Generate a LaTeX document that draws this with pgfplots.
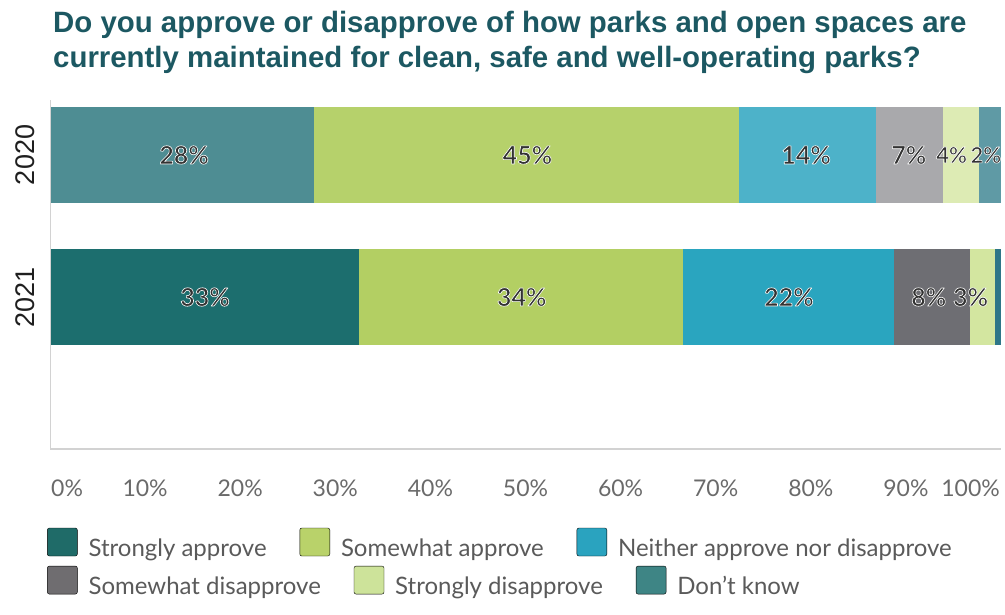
\documentclass[border=0pt]{standalone}
\usepackage{pgfplots}
\pgfplotsset{compat=1.18}
\usepackage{fontspec}
\setmainfont{Lato}
\newfontfamily\titlefont{Liberation Sans}
\newcommand{\halo}[1]{\special{pdf:literal direct 2 Tr 0.6 w 1 j 1 1 1 RG}#1\special{pdf:literal direct 0 Tr}}
\definecolor{titlecol}{HTML}{1C5862}
\definecolor{tickcol}{HTML}{6A6A6A}
\definecolor{legcol}{HTML}{5A5A5A}
\definecolor{labcol}{HTML}{333333}
\definecolor{linecol}{HTML}{D2D2D2}
% 2020 (lighter rendering)
\definecolor{aSA}{HTML}{4E8D93}
\definecolor{aSoA}{HTML}{B6D16B}
\definecolor{aN}{HTML}{4DB2C9}
\definecolor{aSoD}{HTML}{A9A9AC}
\definecolor{aStD}{HTML}{DDEBB4}
\definecolor{aDK}{HTML}{5F9AA5}
% 2021
\definecolor{bSA}{HTML}{1C6E6E}
\definecolor{bSoA}{HTML}{B3CF63}
\definecolor{bN}{HTML}{2AA5BF}
\definecolor{bSoD}{HTML}{6E6E73}
\definecolor{bStD}{HTML}{D3E6A0}
\definecolor{bDK}{HTML}{2E7688}
% legend
\definecolor{lSA}{HTML}{1F6B68}
\definecolor{lSoA}{HTML}{B9D26A}
\definecolor{lN}{HTML}{2AA3BF}
\definecolor{lSoD}{HTML}{6F6D70}
\definecolor{lStD}{HTML}{CDE39A}
\definecolor{lDK}{HTML}{3E8585}
\pgfplotsset{
  legsq/.style={legend image code/.code={\fill[##1,rounded corners=2bp] (0bp,-8bp) rectangle (30bp,20bp);}},
  common/.style={
    at={(50bp,-449bp)}, anchor=south west,
    width=951bp, height=349bp, scale only axis,
    xmin=0, xmax=100, ymin=-0.387, ymax=2.07, y dir=reverse,
    legend style={draw=none, fill=none, inner sep=0pt, legend columns=-1,
      font=\fontsize{24bp}{28bp}\selectfont, text=legcol,
      nodes={inner sep=0pt},
      /tikz/every odd column/.append style={column sep=11bp},
      /tikz/every even column/.append style={column sep=33bp}},
    legend cell align=left,
  }
}
\begin{document}
\begin{tikzpicture}[x=1bp,y=1bp]
\path[use as bounding box] (0,0) rectangle (1005,-615);
\node[anchor=base west, inner sep=0pt, text=titlecol, font=\titlefont\bfseries\fontsize{29.4bp}{35bp}\selectfont] at (53,-33) {Do you approve or disapprove of how parks and open spaces are};
\node[anchor=base west, inner sep=0pt, text=titlecol, font=\titlefont\bfseries\fontsize{29.4bp}{35bp}\selectfont] at (53,-68) {currently maintained for clean, safe and well-operating parks?};

\begin{axis}[common,
  xbar stacked, bar width=0.67,
  axis line style={draw=none},
  tick style={draw=none},
  xtick={1.8,10,20,30,40,50,60,70,80,90,96.8},
  xticklabels={0\%,10\%,20\%,30\%,40\%,50\%,60\%,70\%,80\%,90\%,100\%},
  ytick={0,1}, yticklabels={2020,2021},
  xticklabel style={anchor=center, yshift=-39bp, font=\fontsize{23bp}{26bp}\selectfont, text=tickcol},
  yticklabel style={rotate=90, anchor=south, inner sep=0pt, yshift=15bp, font=\titlefont\fontsize{27bp}{30bp}\selectfont, text=black!88},
  legend style={at={(axis description cs:-0.0032,-0.2685)}, anchor=west},
  legend entries={Strongly approve, Somewhat approve, Neither approve nor disapprove},
]
\addlegendimage{legsq,fill=lSA}
\addlegendimage{legsq,fill=lSoA}
\addlegendimage{legsq,fill=lN}
\draw[linecol, line width=1.2bp] (axis cs:0,-0.387) -- (axis cs:0,2.07) -- (axis cs:100,2.07);
% 2020 segments
\addplot[fill=aSA, draw=none] coordinates {(27.8,0) (0,1)};
\addplot[fill=aSoA, draw=none] coordinates {(44.7,0) (0,1)};
\addplot[fill=aN, draw=none] coordinates {(14.4,0) (0,1)};
\addplot[fill=aSoD, draw=none] coordinates {(7.0,0) (0,1)};
\addplot[fill=aStD, draw=none] coordinates {(3.8,0) (0,1)};
\addplot[fill=aDK, draw=none] coordinates {(2.3,0) (0,1)};
% 2021 segments
\addplot[fill=bSA, draw=none] coordinates {(0,0) (32.5,1)};
\addplot[fill=bSoA, draw=none] coordinates {(0,0) (34.1,1)};
\addplot[fill=bN, draw=none] coordinates {(0,0) (22.1,1)};
\addplot[fill=bSoD, draw=none] coordinates {(0,0) (8.0,1)};
\addplot[fill=bStD, draw=none] coordinates {(0,0) (2.7,1)};
\addplot[fill=bDK, draw=none] coordinates {(0,0) (0.6,1)};
\end{axis}

\begin{axis}[common, hide axis, clip=false,
  legend style={at={(axis description cs:-0.0032,-0.378)}, anchor=west},
  legend entries={Somewhat disapprove, Strongly disapprove, Don't know},
]
\addlegendimage{legsq,fill=lSoD}
\addlegendimage{legsq,fill=lStD}
\addlegendimage{legsq,fill=lDK}
\addplot[only marks, mark=*, mark size=0pt, mark options={draw=none,fill=none},
  point meta=explicit symbolic,
  nodes near coords={\halo{\pgfplotspointmeta}},
  every node near coord/.append style={anchor=center, text=labcol, font=\bfseries\fontsize{25bp}{28bp}\selectfont, inner sep=0pt}]
  coordinates {
  (14.1,0) [28\%]
  (50.2,0) [45\%]
  (79.5,0) [14\%]
  (90.3,0) [7\%]
  (16.3,1) [33\%]
  (49.6,1) [34\%]
  (77.7,1) [22\%]
  (92.4,1) [8\%]
  (96.8,1) [3\%]
  };
\addplot[only marks, mark=*, mark size=0pt, mark options={draw=none,fill=none},
  point meta=explicit symbolic,
  nodes near coords={\halo{\pgfplotspointmeta}},
  every node near coord/.append style={anchor=center, text=labcol, font=\bfseries\fontsize{22bp}{25bp}\selectfont, inner sep=0pt}]
  coordinates {
  (94.8,0) [4\%]
  (98.4,0) [2\%]
  };
\end{axis}
\end{tikzpicture}
\end{document}
